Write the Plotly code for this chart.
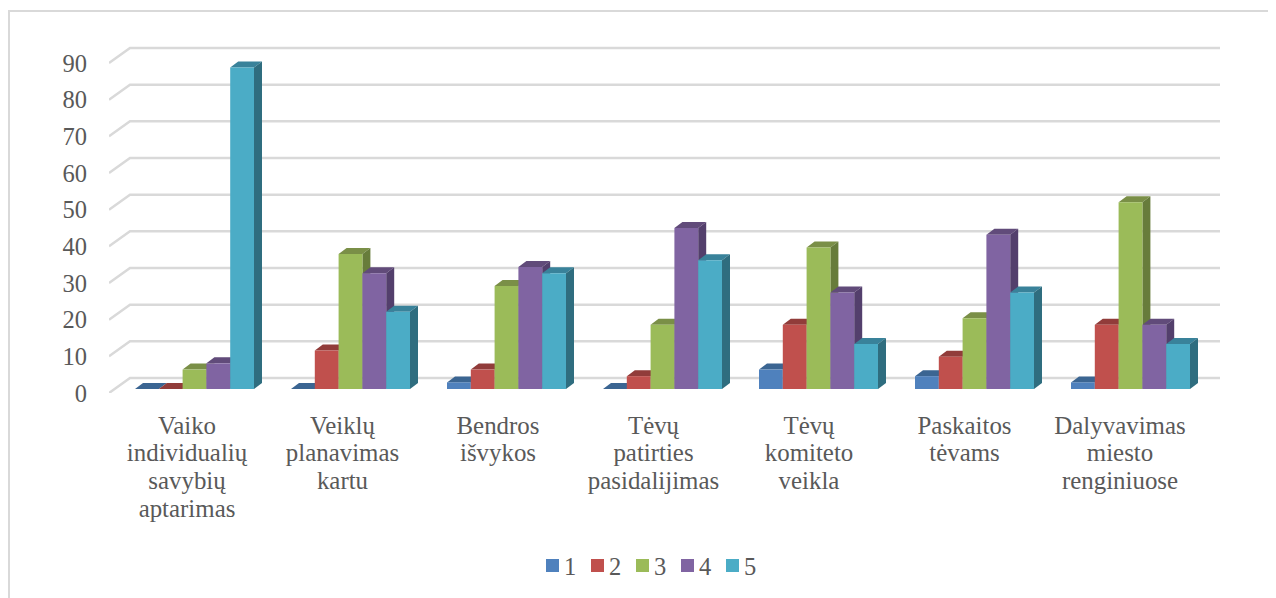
import plotly.graph_objects as go

categories = [["Vaiko", "individualių", "savybių", "aptarimas"], ["Veiklų", "planavimas", "kartu"], ["Bendros", "išvykos"],
              ["Tėvų", "patirties", "pasidalijimas"], ["Tėvų", "komiteto", "veikla"], ["Paskaitos", "tėvams"],
              ["Dalyvavimas", "miesto", "renginiuose"]]
series_names = ["1", "2", "3", "4", "5"]
s1 = [0, 0, 1.8, 0, 5.3, 3.5, 1.8]
s2 = [0, 10.5, 5.3, 3.5, 17.5, 8.8, 17.5]
s3 = [5.3, 36.8, 28.1, 17.5, 38.6, 19.3, 50.9]
s4 = [7.0, 31.6, 33.3, 43.9, 26.3, 42.1, 17.5]
s5 = [87.7, 21.1, 31.6, 35.1, 12.3, 26.3, 12.3]
series = [s1, s2, s3, s4, s5]
front = ["#4F81BD", "#C0504D", "#9BBB59", "#8064A2", "#4BACC6"]
top = ["#3B6592", "#913C3A", "#7A8F47", "#614B7A", "#39829A"]
side = ["#335880", "#7F3432", "#677C3B", "#533F6C", "#2F6D7F"]
ticks = list(range(0, 100, 10))

OFF = 8                            # the page body margin
W, H = 1276 - OFF, 598 - OFF
L, R, T, B = 109 - OFF, 1220 - OFF, 30 - OFF, 393 - OFF   # plot box in figure pixels
PY = 330 / 90                      # pixels per unit
PX = 155.5                         # pixels per category (labels, walls)
PX_BAR = 156                       # pixels per category (bars)
bar_w = 23.8 / PX_BAR
dx, dy = 8 / PX_BAR, 6 / PY        # bar depth
wx, wy = 21 / PX, 15 / PY          # wall depth
x0 = 187 - OFF                     # pixel of first category centre
x0_bar = 194.5 - OFF               # pixel of first bar group centre

xr = [(L - x0) / PX, (R - x0) / PX]
yr = [0, (B - T) / PY]
xr_bar = [(L - x0_bar) / PX_BAR, (R - x0_bar) / PX_BAR]
yr_bar = [-4 / PY, yr[1] - 4 / PY]

fig = go.Figure()

# walls: front stub + back gridline for each tick
gx, gy = [], []
for t in ticks:
    gx += [xr[0], xr[0] + wx, xr[1], None]
    gy += [t, t + wy, t + wy, None]
fig.add_trace(go.Scatter(x=gx, y=gy, mode="lines", line=dict(color="#D9D9D9", width=2.5),
                         showlegend=False, hoverinfo="skip"))

# depth faces
for k, vals in enumerate(series):
    off = (k - 2) * bar_w
    tx, ty, sx, sy = [], [], [], []
    for i, v in enumerate(vals):
        l, r = i + off - bar_w / 2, i + off + bar_w / 2
        tx += [l, r, r + dx, l + dx, l, None]
        ty += [v, v, v + dy, v + dy, v, None]
        sx += [r, r + dx, r + dx, r, r, None]
        sy += [0, dy, v + dy, v, 0, None]
    for px_, py_, c in ((tx, ty, top[k]), (sx, sy, side[k])):
        fig.add_trace(go.Scatter(x=px_, y=py_, mode="lines", fill="toself", fillcolor=c,
                                 line=dict(width=0, color=c), showlegend=False,
                                 hoverinfo="skip", xaxis="x2", yaxis="y2"))

# front faces
for k, vals in enumerate(series):
    fig.add_trace(go.Bar(x=list(range(7)), y=vals, name=series_names[k], width=bar_w,
                         offset=(k - 2.5) * bar_w, marker=dict(color=front[k], line=dict(width=0)),
                         showlegend=False, xaxis="x3", yaxis="y3"))

TEXT_PX = 24.5
CAT_PX = 24.9
font = dict(family="Liberation Serif", size=TEXT_PX, color="#595959")
line_font = dict(family="Liberation Serif", size=21.5, color="#595959")   # sets the 28px line pitch
ticktext = ["<br>".join(f'<span style="font-size:{CAT_PX}px">{w}</span>' for w in c) for c in categories]
hidden = dict(visible=False, fixedrange=True)


def fx(p):
    return (p - OFF - L) / (R - L)


def fy(p):
    return (B - (p - OFF)) / (B - T)


legend_x = [546, 591, 636, 681, 726]
shapes = [dict(type="rect", xref="paper", yref="paper", x0=fx(9), x1=fx(1400), y0=fy(800), y1=fy(11),
               line=dict(color="#D9D9D9", width=2), layer="below")]
annotations = []
for k, name in enumerate(series_names):
    shapes.append(dict(type="rect", xref="paper", yref="paper", x0=fx(legend_x[k]), x1=fx(legend_x[k] + 13),
                       y0=fy(572), y1=fy(559), fillcolor=front[k], line=dict(width=0)))
    annotations.append(dict(xref="paper", yref="paper", x=fx(legend_x[k] + 16), y=fy(566), text=name,
                            showarrow=False, xanchor="left", yanchor="middle", font=font))

fig.update_layout(
    width=W, height=H, autosize=False, paper_bgcolor="white", plot_bgcolor="rgba(0,0,0,0)",
    margin=dict(l=L, r=W - R, t=T, b=H - B), barmode="overlay", font=font, showlegend=False,
    xaxis=dict(range=xr, tickvals=list(range(7)), ticktext=ticktext, showgrid=False, zeroline=False,
               showline=False, ticks="", tickfont=line_font, ticklabelstandoff=18, tickangle=0),
    yaxis=dict(range=yr, tickvals=ticks, showgrid=False, zeroline=False, showline=False, ticks="",
               tickfont=font, ticklabelstandoff=21),
    xaxis2=dict(range=xr_bar, overlaying="x", **hidden),
    yaxis2=dict(range=yr_bar, overlaying="y", **hidden),
    xaxis3=dict(range=xr_bar, overlaying="x", **hidden),
    yaxis3=dict(range=yr_bar, overlaying="y", **hidden),
    shapes=shapes, annotations=annotations,
)
fig.write_html("out.html")
